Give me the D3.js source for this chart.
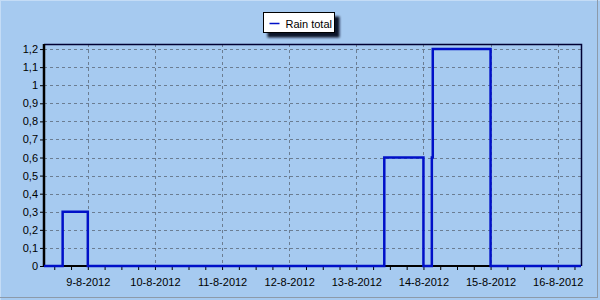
<!DOCTYPE html>
<html>
<head>
<meta charset="utf-8">
<script src="https://cdn.jsdelivr.net/npm/d3@7"></script>
<style>
  body { margin: 0; background: #A6CAF0; }
  svg { display: block; font-family: "Liberation Sans", Arial, sans-serif; }
  .grid line { stroke: #6b7d92; stroke-dasharray: 3,3; stroke-width: 1; }
  .axis text { font-size: 11px; fill: #000; font-family: "Liberation Sans", Arial, sans-serif; }
</style>
</head>
<body>
<svg id="rainChart" width="600" height="300"></svg>
<script>
// daily rain total, step series (resets at midnight)
const times = [
    "2012-08-08 08:20", "2012-08-08 15:00", "2012-08-09 00:00",
    "2012-08-13 10:00", "2012-08-14 00:00", "2012-08-14 03:00",
    "2012-08-14 03:20", "2012-08-15 00:00", "2012-08-16 08:20"
];
const rainValues = [0, 0.3, 0, 0.6, 0, 0.6, 1.2, 0, 0];
const yTicks = [0, 0.1, 0.2, 0.3, 0.4, 0.5, 0.6, 0.7, 0.8, 0.9, 1, 1.1, 1.2];
const xTickDays = ["2012-08-09", "2012-08-10", "2012-08-11", "2012-08-12",
                   "2012-08-13", "2012-08-14", "2012-08-15", "2012-08-16"];
const seriesName = "Rain total";

const parseTime = d3.timeParse("%Y-%m-%d %H:%M");
const parseDay = d3.timeParse("%Y-%m-%d");
const data = times.map((t, i) => ({ date: parseTime(t), value: rainValues[i] }));
const dayTicks = xTickDays.map(parseDay);

const svg = d3.select("#rainChart");
const width = 600, height = 300;
const margens = { left: 44, right: 19, top: 44, bottom: 34 };
const innerW = width - margens.left - margens.right;
const innerH = height - margens.top - margens.bottom;

// frame bevel
svg.append("rect").attr("x", 0).attr("y", 0).attr("width", width).attr("height", height).attr("fill", "#A6CAF0");
svg.append("line").attr("x1", 0).attr("y1", 0.5).attr("x2", width).attr("y2", 0.5).attr("stroke", "#c4dcf6");
svg.append("line").attr("x1", 0.5).attr("y1", 0).attr("x2", 0.5).attr("y2", height).attr("stroke", "#c4dcf6");
svg.append("line").attr("x1", 0).attr("y1", 297.5).attr("x2", 598).attr("y2", 297.5).attr("stroke", "#8c9aaa");
svg.append("line").attr("x1", 597.5).attr("y1", 0).attr("x2", 597.5).attr("y2", 298).attr("stroke", "#8c9aaa");

const mapX = d3.scaleTime()
    .domain([parseTime("2012-08-08 08:20"), parseTime("2012-08-16 08:20")])
    .range([0, innerW]);

const mapY = d3.scaleLinear()
    .domain([0, 1.228])
    .range([innerH, 0]);

const g = svg.append("g").attr("transform", `translate(${margens.left}, ${margens.top})`);

// grid
g.append("g").attr("class", "grid")
    .selectAll("line.h").data(yTicks.filter(d => d > 0)).enter().append("line")
    .attr("x1", 0).attr("x2", innerW)
    .attr("y1", d => Math.round(mapY(d)) + 0.5).attr("y2", d => Math.round(mapY(d)) + 0.5);
g.append("g").attr("class", "grid")
    .selectAll("line.v").data(dayTicks).enter().append("line")
    .attr("y1", 0).attr("y2", innerH)
    .attr("x1", d => Math.round(mapX(d)) + 0.5).attr("x2", d => Math.round(mapX(d)) + 0.5);

// plot border top/right
g.append("path")
    .attr("d", `M0,0.5H${innerW + 0.5}V${innerH}`)
    .attr("fill", "none").attr("stroke", "#000033").attr("stroke-width", 1.5);

// x axis with minor ticks every 6h
const xAxis = d3.axisBottom(mapX)
    .ticks(d3.timeHour.every(6))
    .tickSize(4)
    .tickFormat(d => d.getHours() === 0 ? d3.timeFormat("%-d-%-m-%Y")(d) : "");
const gx = g.append("g").attr("class", "x axis")
    .attr("transform", `translate(0, ${innerH})`)
    .call(xAxis);
gx.select(".domain").remove();
gx.selectAll("text").attr("dy", "1.2em");
gx.selectAll("line").attr("stroke", "#000");

const yAxis = d3.axisLeft(mapY)
    .tickValues(yTicks)
    .tickSize(4)
    .tickFormat(d3.format(",.1~f"));
const gy = g.append("g").attr("class", "y axis").call(yAxis);
gy.select(".domain").remove();
gy.selectAll("text").text(d => String(d).replace(".", ",")).attr("x", -6);

// axis lines
g.append("line").attr("x1", 0).attr("x2", 0).attr("y1", 0).attr("y2", innerH + 1)
    .attr("stroke", "#000").attr("stroke-width", 2.5);
g.append("line").attr("x1", 0).attr("x2", innerW).attr("y1", innerH).attr("y2", innerH)
    .attr("stroke", "#000").attr("stroke-width", 2);

// rain line
const line = d3.line()
    .curve(d3.curveStepAfter)
    .x(d => mapX(d.date))
    .y(d => mapY(d.value));

g.append("path")
    .datum(data)
    .attr("fill", "none")
    .attr("stroke", "#0010C8")
    .attr("stroke-width", 2.5)
    .attr("d", line);

// legend
const defs = svg.append("defs");
defs.append("filter").attr("id", "shadow")
    .append("feGaussianBlur").attr("stdDeviation", 1.2);
const legend = svg.append("g").attr("transform", "translate(263.5, 12.5)");
legend.append("rect").attr("x", 4).attr("y", 4).attr("width", 72).attr("height", 21)
    .attr("fill", "#10182a").attr("filter", "url(#shadow)");
legend.append("rect").attr("width", 71).attr("height", 20)
    .attr("fill", "#fff").attr("stroke", "#000").attr("stroke-width", 1);
legend.append("line").attr("x1", 6).attr("x2", 16).attr("y1", 11).attr("y2", 11)
    .attr("stroke", "#0010C8").attr("stroke-width", 1.5);
legend.append("text").attr("x", 22).attr("y", 15)
    .style("font-size", "11px").text(seriesName);
</script>
</body>
</html>
